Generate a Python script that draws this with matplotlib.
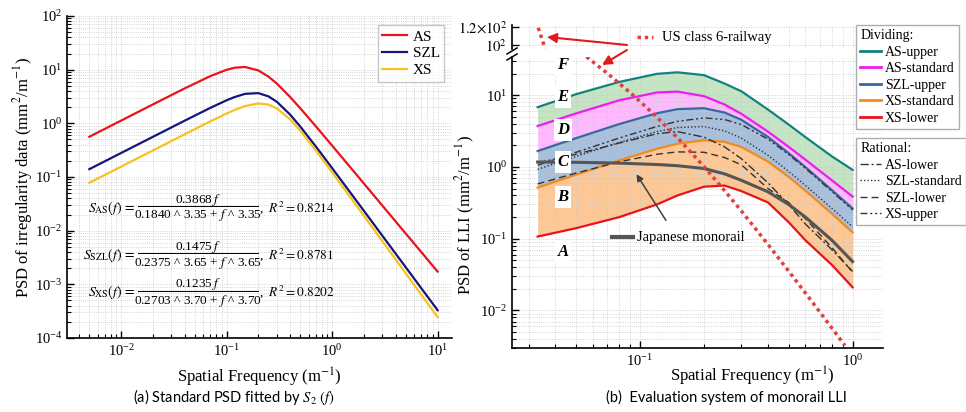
import matplotlib.pyplot as plt
from matplotlib.lines import Line2D
from matplotlib.patches import FancyArrowPatch
from matplotlib.ticker import LogLocator, NullFormatter, FixedLocator, FixedFormatter

# 字体设置：Times 风格衬线字体 + STIX 数学字体
plt.rcParams["font.family"] = ["Liberation Serif", "DejaVu Serif"]
plt.rcParams["mathtext.fontset"] = "stix"
plt.rcParams["xtick.direction"] = "in"
plt.rcParams["ytick.direction"] = "in"

W, H = 966, 412

# ---------------- (a) 标准 PSD 数据 ----------------
freq_a = [0.005, 0.01, 0.02, 0.04, 0.07, 0.1, 0.12, 0.15, 0.2, 0.25, 0.3, 0.4, 0.5, 0.7, 1.0, 2.0, 5.0, 10.0]
psd_as = [0.562, 1.124, 2.25, 4.47, 7.57, 9.95, 10.89, 11.21, 9.68, 7.40, 5.48, 3.10, 1.905, 0.885, 0.3855,
          0.0758, 0.00881, 0.00173]
psd_szl = [0.140, 0.280, 0.560, 1.119, 1.939, 2.688, 3.106, 3.542, 3.654, 3.175, 2.514, 1.455, 0.868, 0.372,
           0.1467, 0.0235, 0.00207, 0.00033]
psd_xs = [0.0781, 0.156, 0.312, 0.624, 1.086, 1.523, 1.785, 2.104, 2.352, 2.231, 1.897, 1.187, 0.728, 0.314,
          0.1225, 0.019, 0.0016, 0.000246]

eq_names = ["AS", "SZL", "XS"]
eq_amp = ["0.3868", "0.1475", "0.1235"]
eq_f0 = ["0.1840", "0.2375", "0.2703"]
eq_n = ["3.35", "3.65", "3.70"]
eq_r2 = ["0.8214", "0.8781", "0.8202"]

# ---------------- (b) 评价体系数据 ----------------
freq_b = [0.033, 0.05, 0.08, 0.12, 0.15, 0.2, 0.25, 0.3, 0.4, 0.5, 0.6, 0.8, 1.0]
as_upper = [6.8, 10.3, 15.3, 19.8, 20.8, 19.0, 14.5, 11.3, 6.3, 3.9, 2.6, 1.4, 0.91]
as_standard = [3.71, 5.56, 8.48, 10.89, 11.21, 9.68, 7.40, 5.48, 3.10, 1.905, 1.26, 0.649, 0.386]
szl_upper = [1.665, 2.513, 3.96, 5.59, 6.38, 6.58, 5.72, 4.53, 2.62, 1.56, 0.995, 0.474, 0.264]
xs_standard = [0.515, 0.779, 1.235, 1.785, 2.104, 2.352, 2.231, 1.897, 1.187, 0.728, 0.466, 0.222, 0.1225]
xs_lower = [0.107, 0.14, 0.2, 0.3, 0.4, 0.53, 0.55, 0.46, 0.32, 0.17, 0.095, 0.043, 0.021]

as_lower = [1.14, 1.5, 2.15, 2.9, 3.1, 2.6, 1.9, 1.3, 0.6, 0.3, 0.16, 0.07, 0.035]
szl_standard = [0.925, 1.396, 2.2, 3.106, 3.542, 3.654, 3.175, 2.514, 1.455, 0.868, 0.5525, 0.2633, 0.1467]
szl_lower = [0.58, 0.82, 1.18, 1.5, 1.62, 1.6, 1.35, 1.07, 0.5, 0.32, 0.19, 0.075, 0.034]
xs_upper = [1.056, 1.597, 2.532, 3.659, 4.313, 4.822, 4.574, 3.889, 2.433, 1.492, 0.955, 0.454, 0.251]
japan = [1.17, 1.16, 1.13, 1.08, 1.04, 0.95, 0.8, 0.65, 0.45, 0.3, 0.2, 0.095, 0.048]

us_freq_lo = [0.056, 0.07, 0.094, 0.12, 0.154, 0.2, 0.25, 0.3, 0.4, 0.5, 0.6, 0.75, 0.92]
us_psd_lo = [34.2, 20.3, 9.67, 4.95, 2.35, 1.01, 0.467, 0.243, 0.0832, 0.0354, 0.0175, 0.0073, 0.00325]
us_freq_hi = [0.0332, 0.0358]
us_psd_hi = [119, 96]

grade_letters = ["F", "E", "D", "C", "B", "A"]
grade_x = 0.0434
grade_y = [26, 9.4, 3.27, 1.17, 0.38, 0.066]


def px_rect(x0, y0, x1, y1):
    """图像像素（左上为原点）-> figure 坐标"""
    return [x0 / W, 1 - y1 / H, (x1 - x0) / W, (y1 - y0) / H]


def fpx(x, y):
    return (x / W, 1 - y / H)


def style_log_axes(ax):
    ax.set_xscale("log")
    ax.set_yscale("log")
    for s in ["top", "right"]:
        ax.spines[s].set_visible(False)
    for s in ["left", "bottom"]:
        ax.spines[s].set_linewidth(1.2)
    ax.xaxis.set_major_locator(LogLocator(base=10, numticks=20))
    ax.xaxis.set_minor_locator(LogLocator(base=10, subs=range(2, 10), numticks=40))
    ax.yaxis.set_major_locator(LogLocator(base=10, numticks=20))
    ax.yaxis.set_minor_locator(LogLocator(base=10, subs=range(2, 10), numticks=40))
    ax.xaxis.set_minor_formatter(NullFormatter())
    ax.yaxis.set_minor_formatter(NullFormatter())
    ax.tick_params(which="major", length=5, width=1, labelsize=10.5)
    ax.tick_params(which="minor", length=3, width=0.8)
    ax.grid(which="both", ls=":", color="#c8c8c8", lw=0.6)


fig = plt.figure(figsize=(W / 100, H / 100), dpi=100)

# ================= (a) =================
ax1 = fig.add_axes(px_rect(67, 16, 452, 338))
style_log_axes(ax1)
ax1.plot(freq_a, psd_as, color="#e8141c", lw=1.6, label="AS")
ax1.plot(freq_a, psd_szl, color="#15157a", lw=1.6, label="SZL")
ax1.plot(freq_a, psd_xs, color="#f7c21b", lw=1.6, label="XS")
ax1.set_xlim(0.00307, 13.7)
ax1.set_ylim(1e-4, 1e2)
ax1.set_xlabel("Spatial Frequency (m$^{-1}$)", fontsize=12)
ax1.set_ylabel("PSD of irregularity data (mm$^2$/m$^{-1}$)", fontsize=12)
ax1.xaxis.set_label_coords(0.5, -0.085)
ax1.yaxis.set_label_coords(-0.083, 0.5)
ax1.legend(loc="upper right", bbox_to_anchor=(1.0, 0.995), fontsize=11, frameon=True, fancybox=False,
           edgecolor="#bbbbbb", handlelength=1.6, handletextpad=0.4, borderpad=0.3, labelspacing=0.2)

# 拟合公式（手工排版分式）
eq_rows = [(200, 206, 215, 208), (247, 253, 263, 255), (284, 291, 301, 292)]
for i, (y_num, y_bar, y_den, y_lhs) in enumerate(eq_rows):
    fig.text(*fpx(135, y_lhs), r"$S_{\mathrm{%s}}(f)\,=$" % eq_names[i], ha="right", va="center",
             fontsize=10)
    fig.text(*fpx(198, y_num), eq_amp[i] + r"$\,f$", ha="center", va="center", fontsize=9.5)
    fig.text(*fpx(198, y_den), eq_f0[i] + " ^ " + eq_n[i] + " + $f$ ^ " + eq_n[i],
             ha="center", va="center", fontsize=9.5)
    fig.add_artist(Line2D([138 / W, 258 / W], [1 - y_bar / H] * 2, color="k", lw=0.7))
    fig.text(*fpx(259, y_lhs), r",  $R^2 = %s$" % eq_r2[i], ha="left", va="center", fontsize=9.5)

# ================= (b) =================
axb = fig.add_axes(px_rect(512, 57, 883, 348))
axt = fig.add_axes(px_rect(512, 25, 883, 49))
style_log_axes(axb)

axb.fill_between(freq_b, as_standard, as_upper, color="#c4e4c4", lw=0, zorder=1)
axb.fill_between(freq_b, szl_upper, as_standard, color="#ffbaff", lw=0, zorder=1)
axb.fill_between(freq_b, xs_standard, szl_upper, color="#a7bfdb", lw=0, zorder=1)
axb.fill_between(freq_b, xs_lower, xs_standard, color="#fcc898", lw=0, zorder=1)

dividing = [
    (as_upper, "#13827e", "AS-upper"),
    (as_standard, "#ee1cee", "AS-standard"),
    (szl_upper, "#37689f", "SZL-upper"),
    (xs_standard, "#f28a1e", "XS-standard"),
    (xs_lower, "#e8141c", "XS-lower"),
]
div_handles = []
for vals, c, lab in dividing:
    axb.plot(freq_b, vals, color=c, lw=1.6, zorder=3)
    div_handles.append(Line2D([], [], color=c, lw=2, label=lab))

rational = [
    (as_lower, (0, (6, 2, 1.5, 2)), "AS-lower"),
    (szl_standard, (0, (1, 1.5)), "SZL-standard"),
    (szl_lower, (0, (5, 3)), "SZL-lower"),
    (xs_upper, (0, (5, 2, 1.5, 2, 1.5, 2)), "XS-upper"),
]
rat_handles = []
for vals, ls, lab in rational:
    axb.plot(freq_b, vals, color="#333333", lw=1.0, ls=ls, zorder=4)
    rat_handles.append(Line2D([], [], color="#333333", lw=1.0, ls=ls, label=lab))

axb.plot(freq_b, japan, color="#555555", lw=2.2, zorder=5)

us_style = dict(color="#e0403f", lw=2.5, ls=(0, (1, 1.1)), zorder=6)
axb.plot(us_freq_lo, us_psd_lo, **us_style)

axb.set_xlim(0.025, 1.39)
axb.set_ylim(0.003, 34)
axb.set_xlabel("Spatial Frequency (m$^{-1}$)", fontsize=12)
axb.set_ylabel("PSD of LLI (mm$^2$/m$^{-1}$)", fontsize=12)
axb.xaxis.set_label_coords(0.647, -0.058)
axb.yaxis.set_label_coords(-0.095, 0.457)

for letter, y in zip(grade_letters, grade_y):
    axb.text(grade_x, y, letter, ha="center", va="center", fontsize=12, fontweight="bold", style="italic",
             zorder=7, bbox=dict(facecolor="white", edgecolor="none", pad=2))

axb.annotate("", xy=(0.0947, 0.853), xytext=(0.1346, 0.167),
             arrowprops=dict(arrowstyle="-|>", color="#404040", lw=1.1, mutation_scale=10), zorder=8)

# 断轴上半部分
axt.set_xscale("log")
axt.set_xlim(0.025, 1.39)
axt.set_ylim(95.5, 122)
axt.plot(us_freq_hi, us_psd_hi, **us_style)
for s in ["top", "right", "bottom"]:
    axt.spines[s].set_visible(False)
axt.spines["left"].set_linewidth(1.2)
axt.yaxis.set_major_locator(FixedLocator([100, 120]))
axt.yaxis.set_major_formatter(FixedFormatter([r"$10^{2}$", r"$1.2{\times}10^{2}$"]))
axt.tick_params(axis="y", which="major", length=5, width=1, labelsize=10.5)
axt.tick_params(axis="x", which="both", bottom=False, labelbottom=False)
axt.xaxis.set_major_locator(LogLocator(base=10, numticks=20))
axt.xaxis.set_minor_locator(LogLocator(base=10, subs=range(2, 10), numticks=40))
axt.grid(which="both", ls=":", color="#c8c8c8", lw=0.6)

# 断轴标记
for yb in (51, 57):
    fig.add_artist(Line2D([507 / W, 517 / W], [1 - (yb + 3) / H, 1 - (yb - 3) / H], color="k", lw=1.1))

# US class 6-railway 图例与红色箭头
fig.add_artist(Line2D([637 / W, 653 / W], [1 - 37 / H] * 2, **us_style))
fig.text(*fpx(662, 37), "US class 6-railway", ha="left", va="center", fontsize=10.5)
for start, end in [((627, 45), (547, 37)), ((627, 50), (602, 65))]:
    fig.add_artist(FancyArrowPatch(posA=fpx(*start), posB=fpx(*end), transform=fig.transFigure,
                                   arrowstyle="-|>", mutation_scale=14, color="#e31a1c", lw=1.5,
                                   shrinkA=0, shrinkB=0))

# Japanese monorail 标注
fig.add_artist(Line2D([612 / W, 633 / W], [1 - 237 / H] * 2, color="#555555", lw=3))
fig.text(*fpx(637, 237), "Japanese monorail", ha="left", va="center", fontsize=10.5)

leg_kw = dict(loc="upper left", fontsize=10, title_fontsize=10, alignment="left", frameon=True,
              fancybox=False, edgecolor="#999999", handlelength=1.5, handletextpad=0.3, borderpad=0.3,
              labelspacing=0.25, borderaxespad=0)
leg1 = fig.legend(handles=div_handles, title="Dividing:", bbox_to_anchor=fpx(856, 25), **leg_kw)
leg2 = fig.legend(handles=rat_handles, title="Rational:", bbox_to_anchor=fpx(856, 138), **leg_kw)

# 子图标题
fig.text(*fpx(234, 397), r"(a) Standard PSD fitted by $S_2\ (f)$", ha="center", va="center",
         fontsize=10.5, family=["Lato", "DejaVu Sans"])
fig.text(*fpx(726, 397), "(b)  Evaluation system of monorail LLI", ha="center", va="center",
         fontsize=10.5, family=["Lato", "DejaVu Sans"])

fig.savefig("out.png", dpi=100)
